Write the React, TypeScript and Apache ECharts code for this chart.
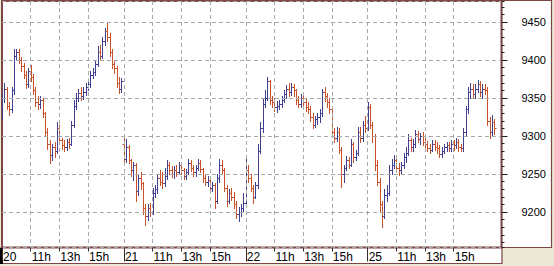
import React, { useEffect, useRef } from "react";
import * as echarts from "echarts";

// Trading days shown on the x axis
const dayLabels = ["20", "21", "22", "25"];
// Hour marks labelled inside each day
const hourMarks = [11, 13, 15];
// Number of 10-minute slots on the axis for each day (9:00 onwards)
const slotsPerDay = [51, 51, 51, 57];

// 10-minute bars: [open, close, low, high]
const day20Bars: number[][] = [
  [9335, 9350, 9322, 9355], [9350, 9362, 9345, 9370], [9362, 9340, 9335, 9364], [9340, 9335, 9328, 9345],
  [9335, 9360, 9332, 9365], [9360, 9405, 9355, 9415], [9405, 9410, 9400, 9415], [9410, 9400, 9396, 9414],
  [9400, 9392, 9386, 9404], [9392, 9380, 9376, 9396], [9380, 9368, 9363, 9385], [9368, 9385, 9365, 9390],
  [9385, 9378, 9372, 9393], [9378, 9360, 9355, 9382], [9360, 9345, 9340, 9364], [9345, 9342, 9335, 9352],
  [9342, 9348, 9337, 9352], [9348, 9330, 9325, 9350], [9330, 9305, 9300, 9332], [9305, 9290, 9283, 9310],
  [9290, 9275, 9264, 9295], [9275, 9285, 9268, 9290], [9285, 9280, 9272, 9292], [9280, 9310, 9278, 9318],
  [9310, 9295, 9290, 9315], [9295, 9288, 9283, 9298], [9288, 9285, 9280, 9295], [9285, 9292, 9282, 9296],
  [9292, 9290, 9284, 9298], [9290, 9315, 9288, 9320], [9315, 9340, 9312, 9348], [9340, 9350, 9336, 9356],
  [9350, 9357, 9346, 9362], [9357, 9352, 9348, 9364], [9352, 9358, 9349, 9365], [9358, 9365, 9354, 9370],
  [9365, 9368, 9360, 9373], [9368, 9380, 9365, 9385], [9380, 9384, 9376, 9390], [9384, 9395, 9380, 9400],
  [9395, 9410, 9392, 9418], [9410, 9405, 9400, 9420], [9405, 9425, 9402, 9430], [9425, 9438, 9420, 9442],
  [9438, 9430, 9425, 9449], [9430, 9410, 9405, 9435], [9410, 9395, 9390, 9415], [9395, 9390, 9383, 9400],
  [9390, 9370, 9365, 9392], [9370, 9362, 9356, 9378], [9362, 9372, 9358, 9376],
];

const day21Bars: number[][] = [
  [9290, 9270, 9262, 9297], [9270, 9285, 9266, 9296], [9285, 9268, 9264, 9288], [9268, 9255, 9248, 9270],
  [9255, 9262, 9242, 9266], [9262, 9228, 9215, 9264], [9228, 9245, 9222, 9250], [9245, 9238, 9230, 9252],
  [9238, 9205, 9198, 9240], [9205, 9195, 9183, 9210], [9195, 9205, 9190, 9210], [9205, 9200, 9195, 9212],
  [9200, 9225, 9198, 9232], [9225, 9230, 9220, 9236], [9230, 9245, 9225, 9250], [9245, 9240, 9235, 9255],
  [9240, 9238, 9232, 9252], [9238, 9248, 9234, 9258], [9248, 9262, 9244, 9268], [9262, 9255, 9250, 9266],
  [9255, 9250, 9246, 9260], [9250, 9255, 9245, 9260], [9255, 9252, 9247, 9262], [9252, 9262, 9250, 9266],
  [9262, 9255, 9250, 9265], [9255, 9248, 9244, 9258], [9248, 9252, 9244, 9256], [9252, 9265, 9250, 9270],
  [9265, 9258, 9254, 9268], [9258, 9252, 9248, 9262], [9252, 9258, 9248, 9262], [9258, 9264, 9255, 9270],
  [9264, 9256, 9252, 9268], [9256, 9245, 9240, 9258], [9245, 9240, 9236, 9250], [9240, 9242, 9234, 9248],
  [9242, 9232, 9226, 9245], [9232, 9236, 9228, 9240], [9236, 9215, 9205, 9238], [9215, 9245, 9212, 9250],
  [9245, 9262, 9240, 9270], [9262, 9255, 9250, 9268], [9255, 9232, 9228, 9258], [9232, 9215, 9208, 9236],
  [9215, 9225, 9212, 9230], [9225, 9220, 9216, 9232], [9220, 9210, 9205, 9226], [9210, 9198, 9192, 9214],
  [9198, 9200, 9188, 9206], [9200, 9205, 9195, 9210], [9205, 9212, 9200, 9225],
];

const day22Bars: number[][] = [
  [9212, 9255, 9210, 9270], [9255, 9245, 9240, 9262], [9245, 9232, 9228, 9250], [9232, 9220, 9212, 9236],
  [9220, 9235, 9218, 9240], [9235, 9280, 9232, 9290], [9280, 9310, 9278, 9318], [9310, 9342, 9305, 9350],
  [9342, 9350, 9338, 9360], [9350, 9372, 9348, 9378], [9372, 9348, 9342, 9374], [9348, 9345, 9338, 9352],
  [9345, 9338, 9333, 9350], [9338, 9340, 9332, 9346], [9340, 9342, 9335, 9348], [9342, 9348, 9338, 9352],
  [9348, 9355, 9345, 9360], [9355, 9362, 9350, 9367], [9362, 9358, 9352, 9370], [9358, 9365, 9354, 9370],
  [9365, 9360, 9352, 9368], [9360, 9348, 9342, 9362], [9348, 9342, 9338, 9352], [9342, 9350, 9338, 9355],
  [9350, 9345, 9340, 9355], [9345, 9338, 9333, 9350], [9338, 9335, 9330, 9345], [9335, 9325, 9320, 9340],
  [9325, 9315, 9310, 9330], [9315, 9322, 9312, 9326], [9322, 9325, 9316, 9330], [9325, 9330, 9318, 9336],
  [9330, 9358, 9326, 9362], [9358, 9352, 9346, 9364], [9352, 9345, 9338, 9356], [9345, 9335, 9330, 9350],
  [9335, 9305, 9300, 9338], [9305, 9298, 9292, 9310], [9298, 9305, 9294, 9312], [9305, 9282, 9278, 9310],
  [9282, 9250, 9233, 9285], [9250, 9258, 9240, 9262], [9258, 9268, 9255, 9274], [9268, 9262, 9258, 9272],
  [9262, 9290, 9260, 9296], [9290, 9272, 9266, 9292], [9272, 9278, 9268, 9282], [9278, 9305, 9275, 9312],
  [9305, 9298, 9292, 9312], [9298, 9315, 9294, 9320], [9315, 9310, 9305, 9326],
];

const day25Bars: number[][] = [
  [9310, 9338, 9308, 9345], [9338, 9315, 9310, 9342], [9315, 9300, 9292, 9318], [9300, 9262, 9255, 9302],
  [9262, 9240, 9236, 9268], [9240, 9210, 9200, 9245], [9210, 9195, 9180, 9215], [9195, 9222, 9192, 9230],
  [9222, 9225, 9215, 9235], [9225, 9255, 9222, 9262], [9255, 9262, 9250, 9270], [9262, 9268, 9258, 9275],
  [9268, 9258, 9252, 9272], [9258, 9255, 9249, 9264], [9255, 9262, 9250, 9266], [9262, 9272, 9258, 9278],
  [9272, 9278, 9266, 9285], [9278, 9295, 9275, 9302], [9295, 9285, 9280, 9298], [9285, 9290, 9280, 9296],
  [9290, 9302, 9286, 9308], [9302, 9296, 9292, 9306], [9296, 9300, 9290, 9304], [9300, 9292, 9288, 9305],
  [9292, 9290, 9285, 9298], [9290, 9284, 9280, 9294], [9284, 9282, 9278, 9290], [9282, 9290, 9280, 9295],
  [9290, 9286, 9282, 9295], [9286, 9284, 9278, 9292], [9284, 9276, 9272, 9288], [9276, 9280, 9272, 9285],
  [9280, 9285, 9278, 9290], [9285, 9288, 9280, 9292], [9288, 9284, 9280, 9292], [9284, 9290, 9280, 9295],
  [9290, 9288, 9282, 9295], [9288, 9292, 9284, 9298], [9292, 9286, 9280, 9296], [9286, 9284, 9280, 9290],
  [9284, 9305, 9280, 9310], [9305, 9335, 9300, 9340], [9335, 9358, 9330, 9365], [9358, 9362, 9350, 9370],
  [9362, 9355, 9350, 9368], [9355, 9362, 9350, 9368], [9362, 9368, 9358, 9374], [9368, 9358, 9352, 9372],
  [9358, 9362, 9350, 9368], [9362, 9360, 9355, 9368], [9360, 9320, 9315, 9365], [9320, 9305, 9297, 9325],
  [9305, 9318, 9300, 9328], [9318, 9310, 9302, 9322],
];

const allDays = [day20Bars, day21Bars, day22Bars, day25Bars];

const Y_MIN = 9153.3;
const Y_MAX = 9477.6;

const BLUE = "#40408f";
const RED = "#c8522a";
const FRAME = "#7e4646";
const GRIDLINE = "#a8a8a8";
const BG = "#ece9d8";

export default function App() {
  const ref = useRef<HTMLDivElement>(null);

  useEffect(() => {
    if (!ref.current) return;
    const chart = echarts.init(ref.current, undefined, { renderer: "svg" });

    const categories: string[] = [];
    const labelText: Record<number, string> = {};
    const dayStarts = new Set<number>();
    const data: number[][] = [];
    let offset = 0;
    slotsPerDay.forEach((slots, d) => {
      for (let s = 0; s < slots; s++) {
        const mins = 9 * 60 + s * 10;
        const hh = Math.floor(mins / 60);
        const mm = mins % 60;
        const idx = offset + s;
        categories.push(`${dayLabels[d]} ${hh}:${String(mm).padStart(2, "0")}`);
        if (s === 0) {
          labelText[idx] = dayLabels[d];
          dayStarts.add(idx);
        } else if (mm === 0 && hourMarks.includes(hh)) {
          labelText[idx] = `${hh}h`;
        }
      }
      allDays[d].forEach((b, i) => {
        data.push([offset + i, b[0], b[1], b[2], b[3]]);
      });
      offset += slots;
    });

    const isLabel = (i: number) => labelText[i] !== undefined;

    const option: any = {
      animation: false,
      backgroundColor: BG,
      grid: {
        left: 1,
        top: 1,
        width: 500.5,
        height: 246.5,
        show: true,
        backgroundColor: "#ffffff",
        borderColor: FRAME,
        borderWidth: 2,
        containLabel: false,
      },
      graphic: [
        {
          type: "rect",
          z: 0,
          shape: { x: 502, y: 0.5, width: 49.5, height: 247 },
          style: { fill: "#ffffff", stroke: FRAME, lineWidth: 1.2 },
        },
        {
          type: "rect",
          z: 0,
          shape: { x: 0.5, y: 248, width: 501.5, height: 15.5 },
          style: { fill: "#ffffff", stroke: FRAME, lineWidth: 1.2 },
        },
        {
          type: "rect",
          z: 1,
          shape: { x: 0, y: 248, width: 3, height: 16 },
          style: { fill: "#000000" },
        },
      ],
      xAxis: [
        {
          type: "category",
          data: categories,
          boundaryGap: false,
          position: "bottom",
          z: 10,
          axisLine: { show: false },
          axisTick: {
            show: true,
            interval: (i: number) => isLabel(i),
            length: 4,
            lineStyle: { color: "#3a2a2a", width: 1 },
          },
          axisLabel: {
            show: true,
            interval: (i: number) => isLabel(i),
            formatter: (_v: string, i: number) => labelText[i] ?? "",
            align: "left",
            margin: 3,
            padding: [0, 0, 0, 1],
            color: "#000000",
            fontSize: 12,
            fontFamily: "Liberation Sans",
          },
          splitLine: {
            show: true,
            interval: (i: number) => isLabel(i) && i !== 0,
            lineStyle: { color: GRIDLINE, type: [4, 3], width: 1 },
          },
        },
        {
          type: "category",
          data: categories,
          boundaryGap: false,
          position: "bottom",
          z: 10,
          axisLine: { show: false },
          axisTick: {
            show: true,
            interval: (i: number) => dayStarts.has(i),
            length: 14,
            lineStyle: { color: "#3a2a2a", width: 1 },
          },
          axisLabel: { show: false },
          splitLine: { show: false },
        },
      ],
      yAxis: [
        {
          type: "value",
          position: "right",
          min: Y_MIN,
          max: Y_MAX,
          splitNumber: 6,
          z: 10,
          axisLine: { show: false },
          axisTick: { show: true, length: 6, lineStyle: { color: "#222222" } },
          axisLabel: {
            show: true,
            showMinLabel: false,
            showMaxLabel: false,
            margin: 20,
            formatter: (v: number) => String(Math.round(v)),
            color: "#000000",
            fontSize: 11,
            fontFamily: "Liberation Sans",
          },
          splitLine: { show: true, lineStyle: { color: GRIDLINE, type: [4, 3], width: 1 } },
        },
        {
          type: "value",
          position: "right",
          min: Y_MIN,
          max: Y_MAX,
          splitNumber: 33,
          z: 10,
          axisLine: { show: false },
          axisTick: { show: true, length: 3, lineStyle: { color: "#222222" } },
          axisLabel: { show: false },
          splitLine: { show: false },
        },
      ],
      series: [
        {
          type: "custom",
          xAxisIndex: 0,
          yAxisIndex: 0,
          z: 5,
          clip: true,
          encode: { x: 0, y: [1, 2, 3, 4] },
          data,
          renderItem: (_params: any, api: any) => {
            const idx = api.value(0);
            const o = api.value(1);
            const c = api.value(2);
            const l = api.value(3);
            const h = api.value(4);
            const pl = api.coord([idx, l]);
            const ph = api.coord([idx, h]);
            const po = api.coord([idx, o]);
            const pc = api.coord([idx, c]);
            const xi = Math.round(pl[0]);
            const color = c >= o ? BLUE : RED;
            const st = { stroke: color, lineWidth: 1 };
            const yo = Math.round(po[1]) + 0.5;
            const yc = Math.round(pc[1]) + 0.5;
            return {
              type: "group",
              children: [
                {
                  type: "line",
                  shape: { x1: xi + 0.5, y1: Math.round(ph[1]), x2: xi + 0.5, y2: Math.round(pl[1]) + 1 },
                  style: st,
                },
                {
                  type: "line",
                  shape: { x1: xi - 1.5, y1: yo, x2: xi, y2: yo },
                  style: st,
                },
                {
                  type: "line",
                  shape: { x1: xi + 1, y1: yc, x2: xi + 2.5, y2: yc },
                  style: st,
                },
              ],
            };
          },
        },
      ],
    };

    chart.setOption(option);
    return () => chart.dispose();
  }, []);

  return (
    <div
      ref={ref}
      style={{ position: "absolute", left: 0, top: 0, width: 554, height: 266 }}
    />
  );
}
